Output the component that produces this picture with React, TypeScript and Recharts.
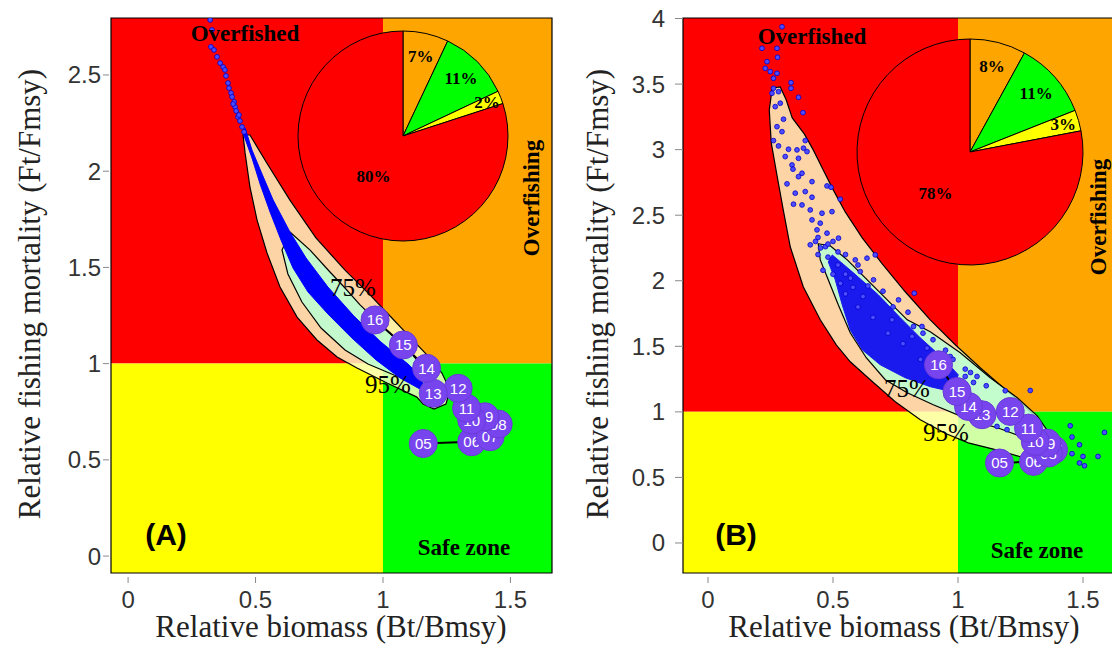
import React from "react";
import { ScatterChart, Scatter, XAxis, YAxis, ReferenceArea, PieChart, Pie, Cell } from "recharts";

// years of the trajectory (2005-2016)
const years = ["05", "06", "07", "08", "09", "10", "11", "12", "13", "14", "15", "16"];

// panel A trajectory
const bioA = [1.158, 1.348, 1.42, 1.452, 1.4, 1.348, 1.328, 1.295, 1.197, 1.171, 1.08, 0.969];
const fmA = [0.585, 0.594, 0.62, 0.686, 0.724, 0.707, 0.768, 0.872, 0.846, 0.976, 1.097, 1.227];
// panel B trajectory
const bioB = [1.166, 1.302, 1.382, 1.362, 1.356, 1.309, 1.282, 1.209, 1.096, 1.042, 0.996, 0.922];
const fmB = [0.61, 0.622, 0.711, 0.686, 0.762, 0.774, 0.876, 1.003, 0.978, 1.041, 1.155, 1.359];

// pie: share of runs in each quadrant
const pieNames = ["Overfishing", "Safe zone", "Recovering", "Overfished"];
const pieA = [7, 11, 2, 80];
const pieB = [8, 11, 3, 78];
const pieColors = ["#FFA500", "#00FF00", "#FFFF00", "#FF0000"];

const ticksX = [0, 0.5, 1, 1.5];
const ticksYA = [0, 0.5, 1, 1.5, 2, 2.5];
const ticksYB = [0, 0.5, 1, 1.5, 2, 2.5, 3, 3.5, 4];

// density contours [B/Bmsy, F/Fmsy]
const ring95A = [
  [0.478, 2.188], [0.549, 2.032], [0.635, 1.85], [0.737, 1.653], [0.851, 1.486], [0.949, 1.357],
  [1.035, 1.237], [1.106, 1.138], [1.176, 1.04], [1.231, 0.951], [1.263, 0.863], [1.247, 0.79],
  [1.2, 0.764], [1.157, 0.79], [1.133, 0.826], [1.016, 0.899], [0.898, 0.977], [0.82, 1.034],
  [0.741, 1.123], [0.663, 1.242], [0.596, 1.398], [0.545, 1.575], [0.506, 1.746], [0.478, 1.918],
  [0.459, 2.095], [0.451, 2.188],
];
const ring75A = [
  [0.635, 1.684], [0.714, 1.59], [0.792, 1.476], [0.851, 1.393], [0.91, 1.305], [0.98, 1.216],
  [1.047, 1.133], [1.106, 1.06], [1.153, 0.988], [1.176, 0.925], [1.137, 0.894], [1.043, 0.941],
  [0.941, 0.998], [0.851, 1.071], [0.757, 1.185], [0.682, 1.32], [0.627, 1.466], [0.604, 1.59],
];
const coreA = [
  [0.459, 2.225], [0.486, 2.11], [0.522, 1.996], [0.569, 1.85], [0.635, 1.684], [0.698, 1.549],
  [0.784, 1.398], [0.886, 1.247], [0.992, 1.112], [1.098, 0.998], [1.161, 0.915], [1.145, 0.868],
  [1.067, 0.925], [0.973, 1.019], [0.878, 1.133], [0.784, 1.258], [0.706, 1.372], [0.647, 1.497],
  [0.6, 1.642], [0.557, 1.788], [0.518, 1.933], [0.486, 2.069], [0.451, 2.199],
];
const dotsA = [
  [0.322, 2.786], [0.329, 2.734], [0.325, 2.646], [0.337, 2.63], [0.349, 2.594], [0.361, 2.562],
  [0.373, 2.541], [0.38, 2.526], [0.384, 2.495], [0.392, 2.458], [0.396, 2.432], [0.404, 2.406],
  [0.408, 2.386], [0.416, 2.36], [0.42, 2.334], [0.424, 2.313], [0.431, 2.282], [0.439, 2.261],
  [0.447, 2.23], [0.412, 2.349], [0.435, 2.292], [0.455, 2.204],
];

const ring95B = [
  [0.257, 3.47], [0.289, 3.478], [0.313, 3.379], [0.337, 3.242], [0.385, 3.12], [0.421, 2.998],
  [0.461, 2.845], [0.501, 2.693], [0.549, 2.525], [0.617, 2.327], [0.697, 2.129], [0.789, 1.916],
  [0.889, 1.702], [0.989, 1.512], [1.089, 1.337], [1.181, 1.184], [1.257, 1.062], [1.321, 0.94],
  [1.369, 0.818], [1.393, 0.712], [1.377, 0.62], [1.329, 0.604], [1.249, 0.658], [1.169, 0.703],
  [1.041, 0.764], [0.953, 0.833], [0.849, 0.94], [0.749, 1.077], [0.649, 1.245], [0.569, 1.382],
  [0.513, 1.511], [0.449, 1.702], [0.381, 1.954], [0.329, 2.259], [0.301, 2.541], [0.277, 2.793],
  [0.253, 3.052], [0.245, 3.303],
];
const ring75B = [
  [0.441, 2.282], [0.489, 2.266], [0.557, 2.159], [0.637, 2.007], [0.717, 1.854], [0.797, 1.702],
  [0.889, 1.611], [1.009, 1.451], [1.129, 1.26], [1.237, 1.108], [1.317, 0.97], [1.361, 0.848],
  [1.353, 0.772], [1.289, 0.787], [1.169, 0.871], [1.037, 0.947], [0.901, 1.054], [0.797, 1.146],
  [0.709, 1.245], [0.633, 1.413], [0.569, 1.603], [0.521, 1.817], [0.481, 2.007], [0.449, 2.159],
];
const coreB = [
  [0.497, 2.197], [0.577, 2.068], [0.681, 1.893], [0.769, 1.718], [0.849, 1.565], [0.937, 1.413],
  [1.001, 1.283], [0.977, 1.153], [0.889, 1.192], [0.789, 1.26], [0.689, 1.359], [0.617, 1.473],
  [0.569, 1.625], [0.537, 1.816], [0.509, 2.007], [0.481, 2.144],
];
const dotsB = [
  [0.296, 3.937], [0.216, 3.773], [0.276, 3.773], [0.236, 3.671], [0.278, 3.704], [0.229, 3.62],
  [0.249, 3.595], [0.276, 3.582], [0.262, 3.544], [0.332, 3.511], [0.262, 3.468], [0.256, 3.43],
  [0.282, 3.442], [0.332, 3.468], [0.362, 3.399], [0.38, 3.282], [0.289, 3.354], [0.269, 3.328],
  [0.302, 3.232], [0.276, 3.175], [0.296, 3.137], [0.262, 3.069], [0.389, 3.069], [0.282, 3.028],
  [0.322, 3.003], [0.356, 2.998], [0.382, 3.011], [0.309, 2.947], [0.362, 2.934], [0.336, 2.883],
  [0.396, 2.985], [0.34, 2.851], [0.376, 2.82], [0.316, 2.739], [0.416, 2.756], [0.362, 2.794],
  [0.476, 2.723], [0.492, 2.713], [0.529, 2.622], [0.349, 2.668], [0.389, 2.68], [0.416, 2.637],
  [0.342, 2.584], [0.376, 2.578], [0.409, 2.54], [0.456, 2.515], [0.496, 2.527], [0.416, 2.464],
  [0.449, 2.439], [0.436, 2.388], [0.476, 2.363], [0.522, 2.325], [0.409, 2.274], [0.589, 2.159],
  [0.636, 2.172], [0.669, 2.197], [0.609, 2.07], [0.662, 2.007], [0.762, 1.854], [0.825, 1.905],
  [0.822, 1.651], [0.856, 1.651], [0.736, 1.702], [0.816, 1.575], [0.876, 1.486], [0.969, 1.422],
  [1.029, 1.326], [1.029, 1.27], [1.076, 1.27], [1.062, 1.224], [1.113, 1.199], [1.189, 1.161],
  [1.289, 1.163], [1.156, 0.889], [1.196, 0.864], [1.449, 0.894], [1.456, 0.808], [1.486, 0.749],
  [1.456, 0.681], [1.5, 0.66], [1.486, 0.61], [1.506, 0.589], [1.56, 0.66], [1.586, 0.843],
  [0.55, 2.2], [0.6, 2.12], [0.57, 2.02], [0.64, 1.96], [0.7, 1.92], [0.74, 1.8], [0.8, 1.76],
  [0.86, 1.6], [0.9, 1.55], [0.95, 1.47], [0.98, 1.4], [1.05, 1.3], [0.47, 2.26], [0.52, 2.22],
  [0.44, 2.33], [0.66, 1.72], [0.72, 1.6], [0.78, 1.52], [0.85, 1.4], [0.92, 1.3], [0.6, 1.8],
  [0.55, 1.9], [0.43, 2.3], [0.45, 2.25], [0.5, 2.3], [0.48, 2.18], [0.44, 2.2], [0.52, 2.12],
  [0.46, 2.08], [0.5, 2.05], [0.55, 2.05], [0.53, 1.98], [0.58, 1.95], [0.62, 1.88], [0.48, 2.28],
];

const pts = (arr: number[][]) => arr.map(([x, y]) => ({ x, y }));

const sans = "'Liberation Sans', Arial, sans-serif";
const serif = "'Liberation Serif', 'Times New Roman', serif";

const XTick = (p: any) => (
  <g>
    <line x1={p.x} x2={p.x} y1={p.y + 4} y2={p.y + 10} stroke="#888" />
    <text x={p.x} y={p.y + 35} textAnchor="middle" fontSize={24} fontFamily={sans} fill="#333">
      {p.payload.value}
    </text>
  </g>
);

const makeYTick = (lineGap: number, textGap: number) => (p: any) => (
  <g>
    <line x1={p.x - 8} x2={p.x - lineGap} y1={p.y} y2={p.y} stroke="#888" />
    <text x={p.x - textGap} y={p.y + 8.5} textAnchor="end" fontSize={24} fontFamily={sans} fill="#333">
      {p.payload.value}
    </text>
  </g>
);

const noDot = () => <g />;
const blueDot = (p: any) => (
  <circle cx={p.cx} cy={p.cy} r={2.4} fill="#4d4dff" stroke="#0000cc" strokeWidth={0.8} />
);
const yearDot = (p: any) => (
  <g>
    <circle cx={p.cx} cy={p.cy} r={14} fill="#7744EE" stroke="#6a3ad8" />
    <text x={p.cx} y={p.cy + 5.5} textAnchor="middle" fontSize={15} fill="#fff" fontFamily={sans}>
      {p.payload.yr}
    </text>
  </g>
);

function Kobe(props: any) {
  const { width, left, xDom, yDom, yTicks, ring95, ring75, core, dots, bio, fm, yTick } = props;
  const traj = years.map((yr, i) => ({ x: bio[i], y: fm[i], yr }));
  return (
    <ScatterChart width={width} height={650} margin={{ top: 18, right: props.right, bottom: 37, left }}>
      <XAxis type="number" dataKey="x" domain={xDom} ticks={ticksX} allowDataOverflow interval={0}
        axisLine={false} tickLine={false} tickSize={0} tickMargin={0} height={40} tick={XTick} />
      <YAxis type="number" dataKey="y" domain={yDom} ticks={yTicks} allowDataOverflow interval={0}
        axisLine={false} tickLine={false} tickSize={0} tickMargin={0} width={60} tick={yTick} />
      <ReferenceArea x1={xDom[0]} x2={1} y1={1} y2={yDom[1]} fill="#FF0000" fillOpacity={1} stroke="none" />
      <ReferenceArea x1={1} x2={xDom[1]} y1={1} y2={yDom[1]} fill="#FFA500" fillOpacity={1} stroke="none" />
      <ReferenceArea x1={xDom[0]} x2={1} y1={yDom[0]} y2={1} fill="#FFFF00" fillOpacity={1} stroke="none" />
      <ReferenceArea x1={1} x2={xDom[1]} y1={yDom[0]} y2={1} fill="#00FF00" fillOpacity={1} stroke="none" />
      <ReferenceArea x1={xDom[0]} x2={xDom[1]} y1={yDom[0]} y2={yDom[1]} fill="none" stroke="#000" strokeWidth={1.2} />
      <Scatter data={pts(ring95)} shape={noDot} isAnimationActive={false} lineJointType="linearClosed"
        line={{ fill: "#FBFFC6", fillOpacity: 0.83, stroke: "#000", strokeWidth: 1.2 }} />
      <Scatter data={pts(ring75)} shape={noDot} isAnimationActive={false} lineJointType="linearClosed"
        line={{ fill: "#B8FFD5", fillOpacity: 0.83, stroke: "#000", strokeWidth: 1.2 }} />
      <Scatter data={pts(core)} shape={noDot} isAnimationActive={false} lineJointType="linearClosed"
        line={{ fill: props.coreFill, stroke: props.coreFill, strokeWidth: 1 }} />
      <Scatter data={pts(dots)} shape={blueDot} isAnimationActive={false} />
      <Scatter data={traj} shape={yearDot} isAnimationActive={false}
        line={{ stroke: "#000", strokeWidth: 2 }} />
    </ScatterChart>
  );
}

function QuadPie({ values, r }: { values: number[]; r: number }) {
  const data = values.map((v, i) => ({ name: pieNames[i], value: v }));
  const size = 2 * r + 10;
  const label = (p: any) => {
    const k = p.value > 50 ? 0.48 : p.value < 5 ? 0.86 : 0.78;
    const a = (-p.midAngle * Math.PI) / 180;
    return (
      <text x={p.cx + p.outerRadius * k * Math.cos(a)} y={p.cy + p.outerRadius * k * Math.sin(a)}
        textAnchor="middle" dominantBaseline="central" fontSize={17} fontWeight="bold" fontFamily={serif} fill="#000">
        {p.value}%
      </text>
    );
  };
  return (
    <PieChart width={size} height={size} margin={{ top: 0, right: 0, bottom: 0, left: 0 }}>
      <Pie data={data} dataKey="value" cx="50%" cy="50%" outerRadius={r} startAngle={90} endAngle={-270}
        stroke="#000" strokeWidth={1} isAnimationActive={false} labelLine={false} label={label}>
        {data.map((d, i) => <Cell key={d.name} fill={pieColors[i]} />)}
      </Pie>
    </PieChart>
  );
}

const abs = (left: number, top: number): React.CSSProperties => ({ position: "absolute", left, top });

export default function App() {
  const bold = { fontFamily: serif, fontWeight: "bold" as const, fill: "#000" };
  return (
    <div style={{ position: "fixed", left: 0, top: 0, width: 1112, height: 650, overflow: "hidden", background: "#fff" }}>
      <div style={abs(0, 0)}>
        <Kobe width={560} left={51} right={8} xDom={[-0.067, 1.663]} yDom={[-0.088, 2.796]} yTicks={ticksYA}
          ring95={ring95A} ring75={ring75A} core={coreA} dots={dotsA} bio={bioA} fm={fmA}
          coreFill="#0000FF" yTick={makeYTick(2, 10)} />
      </div>
      <div style={abs(560, 0)}>
        <Kobe width={554} left={63} right={1} xDom={[-0.1, 1.62]} yDom={[-0.229, 4.004]} yTicks={ticksYB}
          ring95={ring95B} ring75={ring75B} core={coreB} dots={dotsB} bio={bioB} fm={fmB}
          coreFill="#1a1aee" yTick={makeYTick(0, 18)} />
      </div>
      <div style={abs(293, 26)}>
        <QuadPie values={pieA} r={105} />
      </div>
      <div style={abs(852, 34)}>
        <QuadPie values={pieB} r={113} />
      </div>
      <svg width={1112} height={650} style={{ ...abs(0, 0), pointerEvents: "none" }}>
        <text x={245} y={41} textAnchor="middle" fontSize={23} {...bold}>Overfished</text>
        <text transform="translate(539,198) rotate(-90)" textAnchor="middle" fontSize={23} {...bold}>Overfishing</text>
        <text x={464} y={555} textAnchor="middle" fontSize={23} {...bold}>Safe zone</text>
        <text x={166} y={545} textAnchor="middle" fontSize={30} fontWeight="bold" fontFamily={sans}>(A)</text>
        <text x={353} y={296} textAnchor="middle" fontSize={25} fontFamily={serif}>75%</text>
        <text x={388} y={393} textAnchor="middle" fontSize={25} fontFamily={serif}>95%</text>

        <text x={812} y={44} textAnchor="middle" fontSize={23} {...bold}>Overfished</text>
        <text transform="translate(1106,217) rotate(-90)" textAnchor="middle" fontSize={23} {...bold}>Overfishing</text>
        <text x={1037} y={558} textAnchor="middle" fontSize={23} {...bold}>Safe zone</text>
        <text x={736} y={545} textAnchor="middle" fontSize={30} fontWeight="bold" fontFamily={sans}>(B)</text>
        <text x={907} y={397} textAnchor="middle" fontSize={25} fontFamily={serif}>75%</text>
        <text x={946} y={441} textAnchor="middle" fontSize={25} fontFamily={serif}>95%</text>

        <text x={331} y={637} textAnchor="middle" fontSize={31} fontFamily={serif} fill="#222">Relative biomass (Bt/Bmsy)</text>
        <text x={904} y={637} textAnchor="middle" fontSize={31} fontFamily={serif} fill="#222">Relative biomass (Bt/Bmsy)</text>
        <text transform="translate(40,294) rotate(-90)" textAnchor="middle" fontSize={31} fontFamily={serif} fill="#222">Relative fishing mortality (Ft/Fmsy)</text>
        <text transform="translate(608,294) rotate(-90)" textAnchor="middle" fontSize={31} fontFamily={serif} fill="#222">Relative fishing mortality (Ft/Fmsy)</text>
      </svg>
    </div>
  );
}
